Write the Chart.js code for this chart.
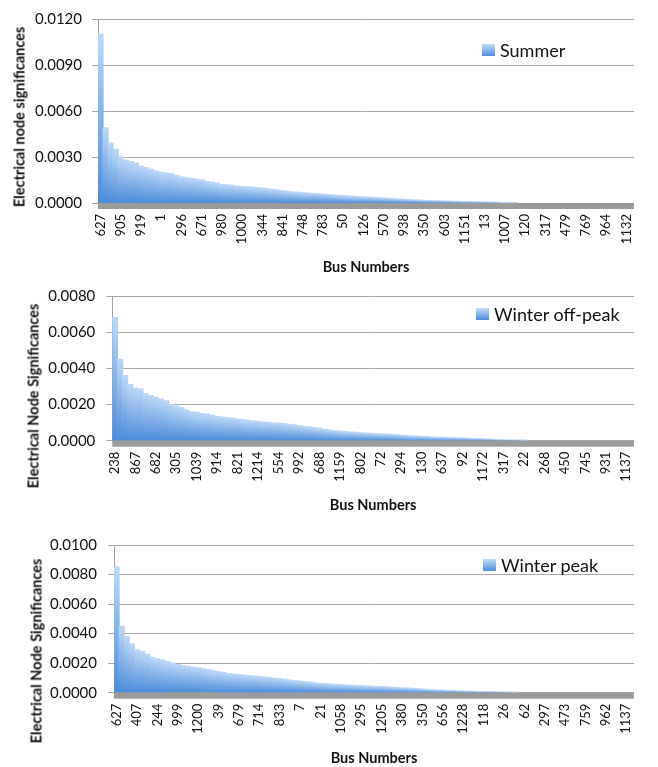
<!DOCTYPE html>
<html>
<head>
<meta charset="utf-8">
<script src="https://cdn.jsdelivr.net/npm/chart.js@4.4.1/dist/chart.umd.min.js"></script>
<style>
  html, body { margin: 0; padding: 0; background: #fff; }
  #page { position: relative; width: 658px; height: 767px; overflow: hidden; font-family: Lato, 'Open Sans', sans-serif; color: #111; }
  .panel { position: absolute; left: 0; }
  .ytitle { position: absolute; transform: translate(-50%, -50%) rotate(-90deg); white-space: nowrap; font-weight: bold; font-size: 14.5px; }
  .legend { position: absolute; display: flex; align-items: center; height: 22px; font-size: 18px; white-space: nowrap; }
  .swatch { width: 13px; height: 12px; margin-right: 5px; background: linear-gradient(to bottom, #c5dcf9, #4b8cd9); }
</style>
</head>
<body>
<div id="page"></div>
<script>
// --- data (sorted node significances, bus labels every 4th bar) ---
const summerBuses = ['627','905','919','1','296','671','980','1000','344','841','748','783','50','126',
  '570','938','350','603','1151','13','1007','120','317','479','769','964','1132'];
const summerValues = [0.0110, 0.0049, 0.0039, 0.0035, 0.0030, 0.0028, 0.0027, 0.0026, 0.0024, 0.0023,
  0.0022, 0.0021, 0.0020, 0.00195, 0.0019, 0.0018, 0.0017, 0.00165, 0.0016, 0.00155,
  0.0015, 0.0014, 0.00135, 0.0013, 0.0012, 0.00118, 0.00115, 0.0011, 0.00108, 0.00105,
  0.00103, 0.0010, 0.00097, 0.00093, 0.00088, 0.00084, 0.0008, 0.00076, 0.00072, 0.0007,
  0.00067, 0.00064, 0.00062, 0.0006, 0.00057, 0.00055, 0.00052, 0.0005, 0.00048, 0.00046,
  0.00044, 0.00042, 0.0004, 0.00038, 0.00036, 0.00034, 0.00032, 0.0003, 0.00028, 0.00026,
  0.00024, 0.00022, 0.0002, 0.00019, 0.00017, 0.00016, 0.00015, 0.00014, 0.00013, 0.00012,
  0.00011, 0.0001, 0.00009, 0.00008, 0.00008, 0.00007, 0.00006, 0.00005, 0.00005, 0.00004,
  0.00003, 0.00002, 0.00001];
const summerYTicks = [0, 0.003, 0.006, 0.009, 0.012];

const offPeakBuses = ['238','867','682','305','1039','914','821','1214','554','992','688','1159','802',
  '72','294','130','637','92','1172','317','22','268','450','745','931','1137'];
const offPeakValues = [0.0068, 0.0045, 0.0036, 0.0031, 0.0029, 0.00285, 0.0026, 0.0025, 0.0024, 0.0023,
  0.0022, 0.0020, 0.0019, 0.00183, 0.0017, 0.0016, 0.00157, 0.0015, 0.00147, 0.0014,
  0.00135, 0.0013, 0.00128, 0.00124, 0.0012, 0.00116, 0.00112, 0.00108, 0.00106, 0.00103,
  0.00101, 0.00099, 0.00097, 0.00094, 0.0009, 0.00087, 0.00084, 0.0008, 0.00076, 0.00072,
  0.00068, 0.00063, 0.00059, 0.00055, 0.00053, 0.0005, 0.00048, 0.00046, 0.00044, 0.00042,
  0.0004, 0.00039, 0.00038, 0.00037, 0.00035, 0.00033, 0.0003, 0.00028, 0.00026, 0.00025,
  0.00023, 0.00022, 0.0002, 0.00019, 0.00018, 0.00017, 0.00016, 0.00015, 0.00014, 0.00013,
  0.00012, 0.00011, 0.0001, 0.00009, 0.00007, 0.00006, 0.00005, 0.00004, 0.00003, 0.00002,
  0.00001];
const offPeakYTicks = [0, 0.002, 0.004, 0.006, 0.008];

const peakBuses = ['627','407','244','999','1200','39','679','714','833','7','21','1058','295','1205',
  '380','350','656','1228','118','26','62','297','473','759','962','1137'];
const peakValues = [0.0085, 0.0045, 0.0038, 0.0033, 0.0029, 0.0028, 0.0026, 0.0024, 0.0023, 0.0022,
  0.0021, 0.0020, 0.0019, 0.00183, 0.00178, 0.00173, 0.00168, 0.00162, 0.00155, 0.00148,
  0.00142, 0.00136, 0.0013, 0.00126, 0.00123, 0.0012, 0.00116, 0.00113, 0.00109, 0.00105,
  0.00102, 0.00098, 0.00095, 0.0009, 0.00086, 0.00082, 0.00078, 0.00075, 0.00071, 0.00067,
  0.00063, 0.00061, 0.00058, 0.00056, 0.00054, 0.00052, 0.0005, 0.00048, 0.00046, 0.00044,
  0.00043, 0.00042, 0.00041, 0.00039, 0.00037, 0.00035, 0.00033, 0.00031, 0.00029, 0.00027,
  0.00024, 0.00022, 0.0002, 0.00018, 0.00017, 0.00015, 0.00014, 0.00012, 0.00011, 0.0001,
  0.00009, 0.00008, 0.00007, 0.00006, 0.00005, 0.00004, 0.00003, 0.00002, 0.00001];
const peakYTicks = [0, 0.002, 0.004, 0.006, 0.008, 0.010];

const BARS_PER_LABEL = 4;

// layout of the three stacked charts (page pixels)
const panels = [
  { name: 'Summer', buses: summerBuses, values: summerValues, yTicks: summerYTicks,
    yTitle: 'Electrical node significances',
    top: 0, height: 276, plotTop: 15, plotLeft: 98, axisHeight: 73, titlePad: 0, yPad: 10,
    yTitleX: 19, yTitleY: 117, legendX: 482, legendY: 50 },
  { name: 'Winter off-peak', buses: offPeakBuses, values: offPeakValues, yTicks: offPeakYTicks,
    yTitle: 'Electrical Node Significances',
    top: 276, height: 240, plotTop: 13.3, plotLeft: 112.3, axisHeight: 75.3, titlePad: 2.3, yPad: 11,
    yTitleX: 33, yTitleY: 396, legendX: 476, legendY: 314 },
  { name: 'Winter peak', buses: peakBuses, values: peakValues, yTicks: peakYTicks,
    yTitle: 'Electrical Node Significances',
    top: 516, height: 251, plotTop: 29, plotLeft: 114, axisHeight: 74.3, titlePad: 0, yPad: 11,
    yTitleX: 36, yTitleY: 651, legendX: 483, legendY: 565 }
];

Chart.defaults.font.family = "Lato, 'Open Sans', sans-serif";
Chart.defaults.color = '#111';

// thick grey band under the plot, like the Excel category axis
const bandPlugin = {
  id: 'axisBand',
  afterDatasetsDraw(chart, args, opts) {
    const { ctx, chartArea: a } = chart;
    ctx.save();
    ctx.fillStyle = opts.color;
    ctx.fillRect(a.left, a.bottom, a.right - a.left, opts.size);
    ctx.restore();
  }
};

// each bar gets its own light-to-dark vertical gradient
function barFill(c) {
  const chart = c.chart, area = chart.chartArea;
  if (!area || c.raw == null) return '#7fb0ea';
  const top = chart.scales.y.getPixelForValue(c.raw);
  const g = chart.ctx.createLinearGradient(0, top, 0, area.bottom);
  g.addColorStop(0, '#bcd7f8');
  g.addColorStop(1, '#4b8cd9');
  return g;
}

const page = document.getElementById('page');

panels.forEach(p => {
  const barCount = (p.buses.length - 1) * BARS_PER_LABEL + 2;
  const labels = [];
  for (let i = 0; i < barCount; i++) {
    labels.push(i % BARS_PER_LABEL === 0 && p.buses[i / BARS_PER_LABEL] ? p.buses[i / BARS_PER_LABEL] : '');
  }

  const box = document.createElement('div');
  box.className = 'panel';
  box.style.top = p.top + 'px';
  const canvas = document.createElement('canvas');
  canvas.width = 658;
  canvas.height = p.height;
  box.appendChild(canvas);
  page.appendChild(box);

  const yt = document.createElement('div');
  yt.className = 'ytitle';
  yt.style.left = p.yTitleX + 'px';
  yt.style.top = p.yTitleY + 'px';
  yt.textContent = p.yTitle;
  page.appendChild(yt);

  const lg = document.createElement('div');
  lg.className = 'legend';
  lg.style.left = p.legendX + 'px';
  lg.style.top = (p.legendY - 11) + 'px';
  lg.innerHTML = '<span class="swatch"></span><span></span>';
  lg.lastChild.textContent = p.name;
  page.appendChild(lg);

  new Chart(canvas, {
    type: 'bar',
    data: {
      labels: labels,
      datasets: [{
        label: p.name,
        data: p.values,
        backgroundColor: barFill,
        borderWidth: 0,
        inflateAmount: 0.6,
        barPercentage: 1,
        categoryPercentage: 1
      }]
    },
    options: {
      responsive: false,
      animation: false,
      layout: { padding: { top: p.plotTop, left: 0, right: 0, bottom: 0 } },
      plugins: {
        legend: { display: false },
        tooltip: { enabled: false },
        axisBand: { color: '#9b9b9b', size: 6 }
      },
      scales: {
        x: {
          grid: { display: false, drawTicks: false },
          border: { display: false },
          ticks: { autoSkip: false, maxRotation: 90, minRotation: 90, padding: 11, font: { size: 13 } },
          title: { display: true, text: 'Bus Numbers', font: { size: 14.5, weight: 'bold' }, padding: { top: 0, bottom: p.titlePad } },
          afterFit(s) { s.height = p.axisHeight; }
        },
        y: {
          min: p.yTicks[0],
          max: p.yTicks[p.yTicks.length - 1],
          afterBuildTicks(s) { s.ticks = p.yTicks.map(v => ({ value: v })); },
          grid: { color: '#a8a8a8', lineWidth: 1, tickLength: 6, tickColor: '#a8a8a8' },
          border: { display: true, color: '#a0a0a0', width: 1 },
          ticks: { padding: p.yPad, font: { size: 15 }, callback: v => Number(v).toFixed(4) },
          afterFit(s) { s.width = p.plotLeft; }
        }
      }
    },
    plugins: [bandPlugin]
  });
});
</script>
</body>
</html>
